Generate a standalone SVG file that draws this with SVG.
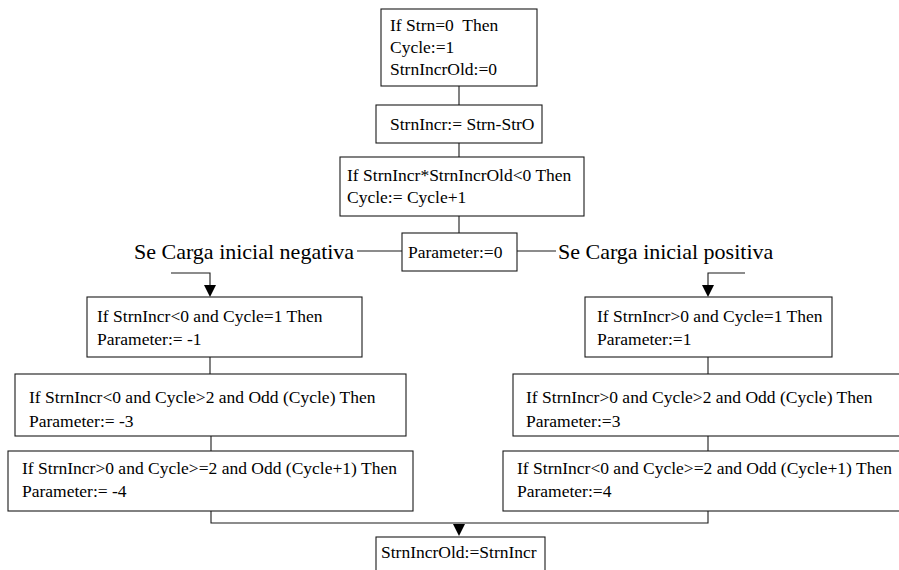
<svg xmlns="http://www.w3.org/2000/svg" width="899" height="570" viewBox="0 0 899 570">
  <style>
    .box { fill: #ffffff; stroke: #1a1a1a; stroke-width: 1.1; }
    .t { font-family: "Liberation Serif", "Times New Roman", serif; font-size: 17.5px; fill: #000; white-space: pre; }
    .lbl { font-family: "Liberation Serif", "Times New Roman", serif; font-size: 22px; fill: #000; }
    .wire { fill: none; stroke: #1a1a1a; stroke-width: 1.1; }
    .head { fill: #000; }
  </style>

  <rect width="899" height="570" fill="#ffffff"/>

  <!-- connectors -->
  <g id="connectors">
    <path class="wire" d="M459,86 V105"/>
    <path class="wire" d="M459,143 V157"/>
    <path class="wire" d="M459,216 V233"/>
    <path class="wire" d="M357,251 H402"/>
    <path class="wire" d="M517,251 H556"/>
    <path class="wire" d="M171,273 H210 V285"/>
    <path class="head" d="M204,285 L216,285 L210,297 Z"/>
    <path class="wire" d="M745,273 H708 V285"/>
    <path class="head" d="M702,285 L714,285 L708,297 Z"/>
    <path class="wire" d="M210,357 V374"/>
    <path class="wire" d="M708,357 V374"/>
    <path class="wire" d="M211,436 V451"/>
    <path class="wire" d="M708,436 V451"/>
    <path class="wire" d="M211,511 V523 H708 V511"/>
    <path class="head" d="M453,524 L465,524 L459,536 Z"/>
  </g>

  <!-- main sequence -->
  <g id="init">
    <rect class="box" x="381" y="9" width="156" height="77"/>
    <text class="t" x="390" y="31">If Strn=0  Then</text>
    <text class="t" x="390" y="53">Cycle:=1</text>
    <text class="t" x="390" y="75">StrnIncrOld:=0</text>
  </g>
  <g id="incr">
    <rect class="box" x="376" y="105" width="166" height="38"/>
    <text class="t" x="390" y="130">StrnIncr:= Strn-StrO</text>
  </g>
  <g id="cycle">
    <rect class="box" x="340" y="157" width="244" height="59"/>
    <text class="t" x="347" y="181">If StrnIncr*StrnIncrOld&lt;0 Then</text>
    <text class="t" x="347" y="203">Cycle:= Cycle+1</text>
  </g>
  <g id="param0">
    <rect class="box" x="402" y="233" width="115" height="38"/>
    <text class="t" x="408" y="258">Parameter:=0</text>
  </g>

  <!-- branch labels -->
  <g id="label-neg">
    <text class="lbl" x="134" y="259">Se Carga inicial negativa</text>
  </g>
  <g id="label-pos">
    <text class="lbl" x="558" y="259">Se Carga inicial positiva</text>
  </g>

  <!-- negative branch -->
  <g id="neg1">
    <rect class="box" x="87" y="297" width="275" height="60"/>
    <text class="t" x="97" y="322">If StrnIncr&lt;0 and Cycle=1 Then</text>
    <text class="t" x="97" y="345">Parameter:= -1</text>
  </g>
  <g id="neg3">
    <rect class="box" x="15" y="374" width="391" height="62"/>
    <text class="t" x="29" y="403">If StrnIncr&lt;0 and Cycle&gt;2 and Odd (Cycle) Then</text>
    <text class="t" x="29" y="427">Parameter:= -3</text>
  </g>
  <g id="neg4">
    <rect class="box" x="8" y="451" width="405" height="60"/>
    <text class="t" x="22" y="474">If StrnIncr&gt;0 and Cycle&gt;=2 and Odd (Cycle+1) Then</text>
    <text class="t" x="22" y="497">Parameter:= -4</text>
  </g>

  <!-- positive branch -->
  <g id="pos1">
    <rect class="box" x="585" y="297" width="247" height="60"/>
    <text class="t" x="597" y="322">If StrnIncr&gt;0 and Cycle=1 Then</text>
    <text class="t" x="597" y="345">Parameter:=1</text>
  </g>
  <g id="pos3">
    <rect class="box" x="513" y="374" width="400" height="62"/>
    <text class="t" x="526" y="403">If StrnIncr&gt;0 and Cycle&gt;2 and Odd (Cycle) Then</text>
    <text class="t" x="526" y="427">Parameter:=3</text>
  </g>
  <g id="pos4">
    <rect class="box" x="503" y="451" width="410" height="60"/>
    <text class="t" x="517" y="474">If StrnIncr&lt;0 and Cycle&gt;=2 and Odd (Cycle+1) Then</text>
    <text class="t" x="517" y="497">Parameter:=4</text>
  </g>

  <!-- final update -->
  <g id="update">
    <rect class="box" x="376" y="537" width="169" height="45"/>
    <text class="t" x="381" y="558">StrnIncrOld:=StrnIncr</text>
  </g>
</svg>
